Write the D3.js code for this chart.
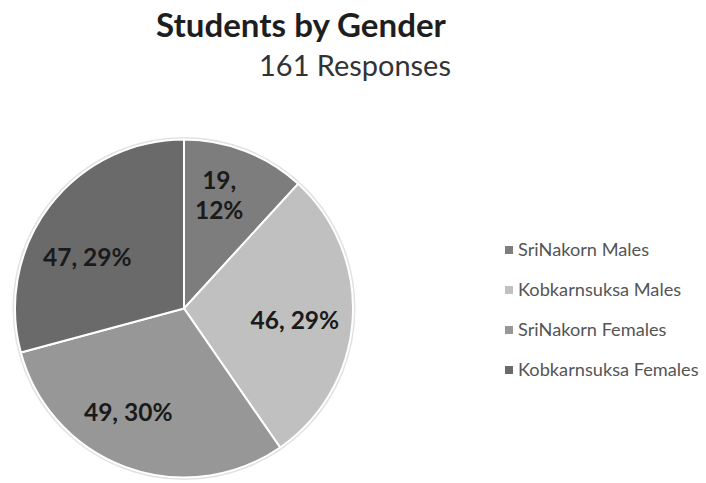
<!DOCTYPE html>
<html>
<head>
<meta charset="utf-8">
<script src="https://cdn.jsdelivr.net/npm/d3@7"></script>
<style>
  html, body { margin: 0; padding: 0; background: #fff; }
  svg { display: block; }
</style>
</head>
<body>
<svg id="chart" width="706" height="483"></svg>
<script>
// Student counts by school and gender
const categories = ["SriNakorn Males", "Kobkarnsuksa Males", "SriNakorn Females", "Kobkarnsuksa Females"];
const counts = [19, 46, 49, 47];
const sliceColors = ["#7d7d7d", "#c0c0c0", "#979797", "#6a6a6a"];
const titleText = "Students by Gender";
const subtitleText = "161 Responses";

const svg = d3.select("#chart");
const font = "Lato, 'Open Sans', 'Liberation Sans', sans-serif";

// Scale a text element's font size so its rendered width equals `w`
function fitWidth(sel, w) {
  const base = 20;
  sel.attr("font-size", base);
  const len = sel.node().getComputedTextLength();
  sel.attr("font-size", base * w / len);
  return sel;
}

// Title block
fitWidth(svg.append("text")
  .attr("x", 301).attr("y", 37)
  .attr("text-anchor", "middle")
  .attr("font-family", font).attr("font-weight", 700)
  .attr("fill", "#1e1e1e")
  .text(titleText), 290);

fitWidth(svg.append("text")
  .attr("x", 355).attr("y", 76)
  .attr("text-anchor", "middle")
  .attr("font-family", font)
  .attr("fill", "#333333")
  .text(subtitleText), 192);

// Pie
const cx = 184, cy = 308.5, radius = 169;
const total = d3.sum(counts);
const data = categories.map((c, i) => ({ name: c, value: counts[i], color: sliceColors[i] }));

const pie = d3.pie().value(d => d.value).sort(null);
const arc = d3.arc().innerRadius(0).outerRadius(radius);
const arcs = pie(data);

const g = svg.append("g").attr("transform", `translate(${cx},${cy})`);

// faint rim around the pie
g.append("circle")
  .attr("r", radius + 1.5)
  .attr("fill", "none")
  .attr("stroke", "#e2e2e2")
  .attr("stroke-width", 2);

g.selectAll("path.slice")
  .data(arcs)
  .join("path")
  .attr("class", "slice")
  .attr("d", arc)
  .attr("fill", d => d.data.color)
  .attr("stroke", "#ffffff")
  .attr("stroke-width", 2);

// Data labels: "value, percent", placed along each slice's bisector
const labelPlacement = [
  { r: 0.695, shift: -3.8, lines: 2 },
  { r: 0.66,  shift: 2.5,  lines: 1 },
  { r: 0.70,  shift: 8,    lines: 1 },
  { r: 0.645, shift: -10,  lines: 1 }
];
const labelSize = 24.5;

arcs.forEach((a, i) => {
  const p = labelPlacement[i];
  const mid = (a.startAngle + a.endAngle) / 2 + p.shift * Math.PI / 180;
  const rr = radius * p.r;
  const x = Math.sin(mid) * rr;
  const y = -Math.cos(mid) * rr;
  const pct = Math.round(a.data.value / total * 100) + "%";
  const t = g.append("text")
    .attr("text-anchor", "middle")
    .attr("font-family", font).attr("font-weight", 700)
    .attr("font-size", labelSize).attr("fill", "#1a1a1a");
  if (p.lines === 2) {
    t.append("tspan").attr("x", x).attr("y", y - 7).text(a.data.value + ",");
    t.append("tspan").attr("x", x).attr("y", y + 23).text(pct);
  } else {
    t.attr("x", x).attr("y", y + 8).text(a.data.value + ", " + pct);
  }
});

// Legend
const legendY = d3.scalePoint().domain(categories).range([250, 370]);
const legend = svg.append("g");
const legendSize = 18.2;
categories.forEach((c, i) => {
  legend.append("rect")
    .attr("x", 505).attr("y", legendY(c) - 4)
    .attr("width", 8).attr("height", 8)
    .attr("fill", sliceColors[i]);
  legend.append("text")
    .attr("x", 518).attr("y", legendY(c) + 6)
    .attr("font-family", font)
    .attr("font-size", legendSize).attr("fill", "#555555")
    .text(c);
});
</script>
</body>
</html>
